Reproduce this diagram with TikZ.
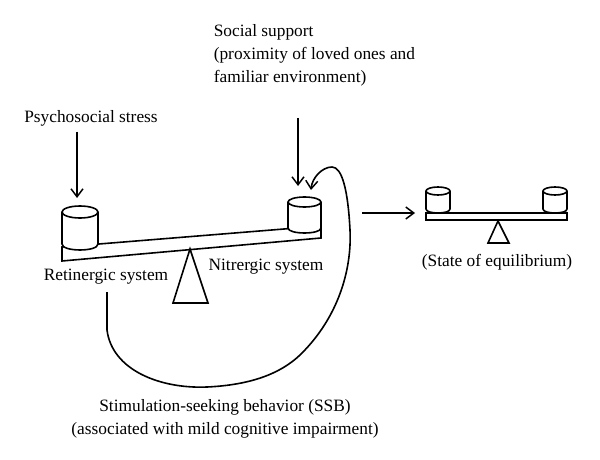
\documentclass[tikz,border=0pt]{standalone}
\usepackage{fontspec}
\setmainfont{Liberation Serif}
\usetikzlibrary{arrows.meta}
\newcommand\mycyl[5]{% x, ytop, ybot, rx, ry
  \filldraw[fill=white] ({#1-#4},#2) -- ({#1-#4},#3)
    .. controls ({#1-#4},{#3+1.33*#5}) and ({#1+#4},{#3+1.33*#5}) .. ({#1+#4},#3)
    -- ({#1+#4},#2);
  \filldraw[fill=white] (#1,#2) ellipse[x radius=#4, y radius=#5];}
\begin{document}
\begin{tikzpicture}[x=0.75pt,y=-0.75pt,line width=1.2pt,
  lbl/.style={font=\fontsize{13}{17}\selectfont, inner sep=0pt},
  arr/.style={-{Straight Barb[length=6pt,width=9pt,line width=1.1pt]}}]
\useasboundingbox (0,0) rectangle (600,460);
% left tilted seesaw
\filldraw[fill=white] (62,247) -- (62,261) -- (321,238) -- (321,226) -- cycle;
\filldraw[fill=white] (190,249) -- (173,303) -- (208,303) -- cycle;
\mycyl{80}{212}{244}{18}{6}
\mycyl{304.5}{202}{228}{16.5}{5}
% right balanced seesaw
\filldraw[fill=white] (426,213) rectangle (567,220);
\filldraw[fill=white] (498,221) -- (488,243) -- (509,243) -- cycle;
\mycyl{438}{191}{209}{12}{4}
\mycyl{555}{191}{209}{12}{4}
% labels
\node[lbl] (stress) at (91,118) {Psychosocial stress};
\node[lbl,align=left,anchor=north west] (social) at (213,24) {Social support\\(proximity of loved ones and\\familiar environment)};
\node[lbl] (ret) at (106,277) {Retinergic system};
\node[lbl] (nit) at (266,267) {Nitrergic system};
\node[lbl] (eq) at (497,262) {(State of equilibrium)};
\node[lbl,align=center] (ssb) at (225,419) {Stimulation-seeking behavior (SSB)\\(associated with mild cognitive impairment)};
% connectors
\coordinate (c1) at (77,198);
\coordinate (s0) at (298,118);
\coordinate (c2) at (298,186);
\coordinate (h0) at (362,213);
\coordinate (h1) at (415,213);
\coordinate (l0) at (107,292);
\coordinate (l1) at (107,330);
\coordinate (tip) at (311,190);
\draw[arr] (stress.south -| c1) ++(0,5) -- (c1);
\draw[arr] (s0) -- (c2);
\draw[arr] (h0) -- (h1);
\draw[arr] (l0) -- (l1) .. controls (112,370) and (160,389) .. (207,387)
  .. controls (250,385) and (280,374) .. (300,355)
  .. controls (338,318) and (352,270) .. (350,230)
  .. controls (348,190) and (342,167) .. (332,167)
  .. controls (322,167) and (312,178) .. (tip);
\end{tikzpicture}
\end{document}
